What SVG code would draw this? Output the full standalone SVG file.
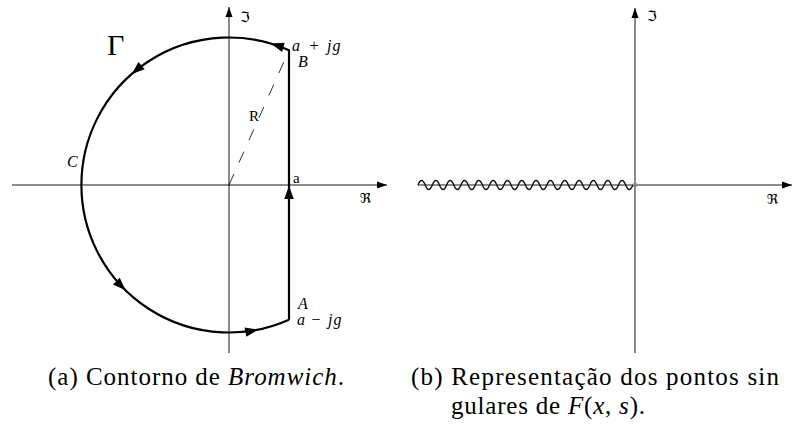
<svg xmlns="http://www.w3.org/2000/svg" width="793" height="432" viewBox="0 0 793 432">
<style>
  .ax{stroke:#000;stroke-width:0.9;fill:none}
  .ct{stroke:#000;stroke-width:2.2;fill:none;stroke-linejoin:miter}
  .ah{fill:#000;stroke:none}
  .lbl{font-family:'Liberation Serif','DejaVu Serif','Times New Roman',serif;fill:#000}
  .it{font-style:italic}
  .frak{font-family:'DejaVu Serif','DejaVu Sans',serif;font-size:14px;fill:#000}
  .cap{font-family:'Liberation Serif','DejaVu Serif','Times New Roman',serif;font-size:25px;fill:#000}
</style>
<defs>
  <marker id="axArrow" markerUnits="userSpaceOnUse" markerWidth="11" markerHeight="8" refX="10" refY="3.5" orient="auto" overflow="visible">
    <path d="M0,0 L10,3.5 L0,7 Z" fill="#000"/>
  </marker>
  <path id="head" d="M0,0 L-13,-4.8 L-13,4.8 Z"/>
</defs>

<g id="panel-a">
  <g id="axes-a" class="ax">
    <line x1="12" y1="185" x2="387" y2="185" marker-end="url(#axArrow)"/>
    <line x1="229" y1="353" x2="229" y2="7" marker-end="url(#axArrow)"/>
  </g>
  <g id="connectors-a">
    <path id="radius" d="M229,185 L289,50.3" stroke="#000" stroke-width="0.8" stroke-dasharray="12 12.5" fill="none"/>
    <path id="contour" class="ct" d="M289,319.7 L289,50.3 A147.5,147.5 0 1 0 289,319.7"/>
    <g class="ah">
      <use href="#head" transform="translate(289,186) rotate(-90)"/>
      <use href="#head" transform="translate(270.9,43.6) rotate(196.5)"/>
      <use href="#head" transform="translate(131.8,74.1) rotate(138.8)"/>
      <use href="#head" transform="translate(125.6,290.2) rotate(44.5)"/>
      <use href="#head" transform="translate(258.2,329.6) rotate(-11.4)"/>
    </g>
  </g>
  <g id="labels-a">
    <text class="frak" x="240" y="22">ℑ</text>
    <text class="frak" x="360" y="203">ℜ</text>
    <text class="lbl" x="107" y="55" font-size="30">Γ</text>
    <text class="lbl it" x="67" y="167" font-size="16">C</text>
    <text class="lbl" x="249" y="121" font-size="15">R</text>
    <text class="lbl" font-size="16" y="51"><tspan class="it" x="292">a</tspan> <tspan x="309.5">+</tspan> <tspan class="it" x="327">j</tspan><tspan class="it" x="332.5">g</tspan></text>
    <text class="lbl it" x="298" y="67" font-size="16">B</text>
    <text class="lbl" x="293" y="183" font-size="15">a</text>
    <text class="lbl it" x="298" y="309" font-size="16">A</text>
    <text class="lbl" font-size="16" y="325"><tspan class="it" x="297">a</tspan> <tspan x="311.5">−</tspan> <tspan class="it" x="328">j</tspan><tspan class="it" x="333.5">g</tspan></text>
  </g>
</g>

<g id="panel-b">
  <g id="axes-b" class="ax">
    <line x1="418" y1="185" x2="792" y2="185" marker-end="url(#axArrow)"/>
    <line x1="635" y1="353" x2="635" y2="8" marker-end="url(#axArrow)"/>
  </g>
  <path id="branch-cut" d="M418,185 q3.58,-9 7.16,0 t7.16,0 t7.16,0 t7.16,0 t7.16,0 t7.16,0 t7.16,0 t7.16,0 t7.16,0 t7.16,0 t7.16,0 t7.16,0 t7.16,0 t7.16,0 t7.16,0 t7.16,0 t7.16,0 t7.16,0 t7.16,0 t7.16,0 t7.16,0 t7.16,0 t7.16,0 t7.16,0 t7.16,0 t7.16,0 t7.16,0 t7.16,0 t7.16,0 t7.16,0" stroke="#111" stroke-width="1.4" fill="none"/>
  <g id="origin-mark" stroke="#999" stroke-width="0.8">
    <line x1="632.5" y1="182.5" x2="637.5" y2="187.5"/>
    <line x1="632.5" y1="187.5" x2="637.5" y2="182.5"/>
  </g>
  <text class="frak" x="647" y="21">ℑ</text>
  <text class="frak" x="767" y="204">ℜ</text>
</g>

<g id="captions">
  <text class="cap" x="48" y="385" textLength="296" lengthAdjust="spacing">(a) Contorno de <tspan font-style="italic">Bromwich</tspan>.</text>
  <text class="cap" x="411" y="385" textLength="368" lengthAdjust="spacing">(b) Representação dos pontos sin</text>
  <text class="cap" x="451" y="414" textLength="194" lengthAdjust="spacing">gulares de <tspan font-style="italic">F</tspan>(<tspan font-style="italic">x</tspan>, <tspan font-style="italic">s</tspan>).</text>
</g>
</svg>
